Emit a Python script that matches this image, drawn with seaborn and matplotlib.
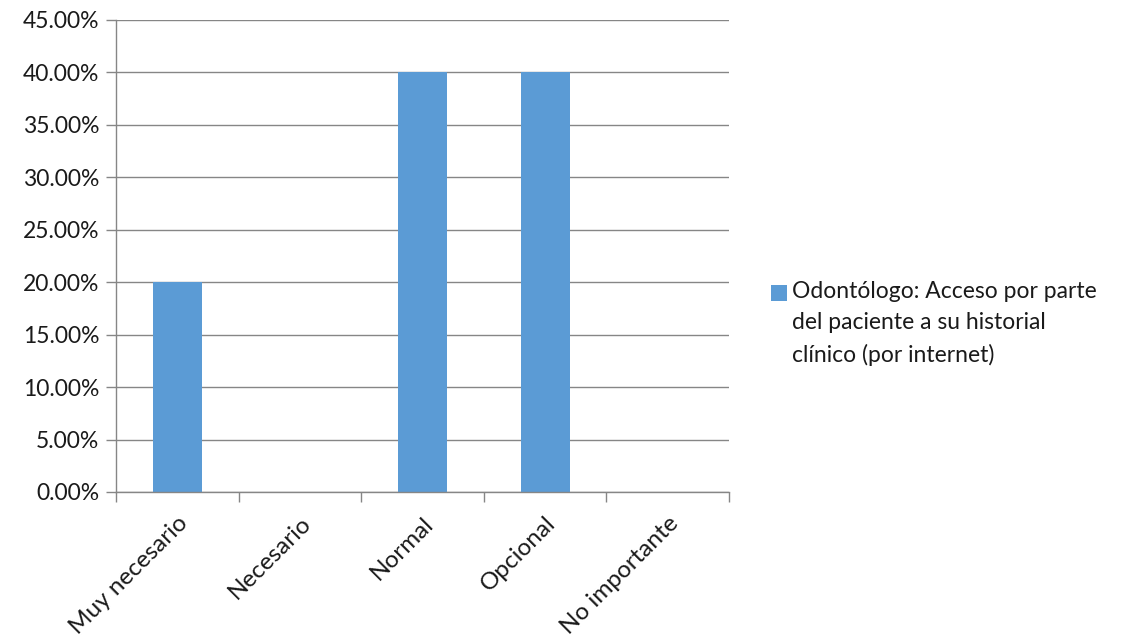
import numpy as np
import pandas as pd
import matplotlib.pyplot as plt
import seaborn as sns
from matplotlib.patches import Rectangle

# Datos
categorias = ['Muy necesario', 'Necesario', 'Normal', 'Opcional', 'No importante']
porcentajes = [20.0, 0.0, 40.0, 40.0, 0.0]
serie = 'Odontólogo: Acceso por parte\ndel paciente a su historial\nclínico (por internet)'

df = pd.DataFrame({'categoria': categorias, 'porcentaje': porcentajes})

sns.set_theme(style="white")
plt.rcParams['font.family'] = ['Lato', 'DejaVu Sans']

fig = plt.figure(figsize=(11.24, 6.4), dpi=100)
ax = fig.add_axes([0.1032, 0.2313, 0.5454, 0.7375])

color_barra = '#5B9BD5'
sns.barplot(data=df, x='categoria', y='porcentaje', color=color_barra,
            width=0.4, ax=ax, errorbar=None, saturation=1, linewidth=0)

ax.set_ylim(0, 45)
ax.set_xlim(-0.5, len(categorias) - 0.5)
ax.set_yticks(np.arange(0, 46, 5))
ax.set_yticklabels([f'{v:.2f}%' for v in np.arange(0, 46, 5)], fontsize=16.5, color='#1a1a1a')
ax.yaxis.grid(True, color='#868686', linewidth=1)
ax.set_axisbelow(True)

# ticks del eje x en los límites de categoría
ax.set_xticks(np.arange(-0.5, len(categorias), 1), minor=False)
ax.set_xticklabels([''] * (len(categorias) + 1))
ax.set_xticks(np.arange(len(categorias)), minor=True)
ax.set_xticklabels(categorias, minor=True, rotation=45, ha='right',
                   rotation_mode='anchor', fontsize=17.5, color='#1a1a1a')
ax.tick_params(axis='x', which='major', direction='out', length=7, color='#868686', width=1, bottom=True)
ax.tick_params(axis='x', which='minor', length=0, pad=15)
ax.tick_params(axis='y', direction='out', length=7, color='#868686', width=1, left=True, pad=5)

for s in ['top', 'right']:
    ax.spines[s].set_visible(False)
for s in ['left', 'bottom']:
    ax.spines[s].set_color('#868686')
    ax.spines[s].set_linewidth(1)

ax.set_xlabel('')
ax.set_ylabel('')

# Leyenda (cuadro + texto, alineado con la primera línea)
W, H = 1124, 640
fig.patches.append(Rectangle((771 / W, 1 - 301 / H), 16 / W, 16 / H,
                             transform=fig.transFigure, facecolor=color_barra,
                             edgecolor='none'))
fig.text(792 / W, 1 - 281 / H, serie, fontsize=16.5, va='top', ha='left',
         linespacing=1.6, color='#1a1a1a')

fig.savefig('out.png', dpi=100)
